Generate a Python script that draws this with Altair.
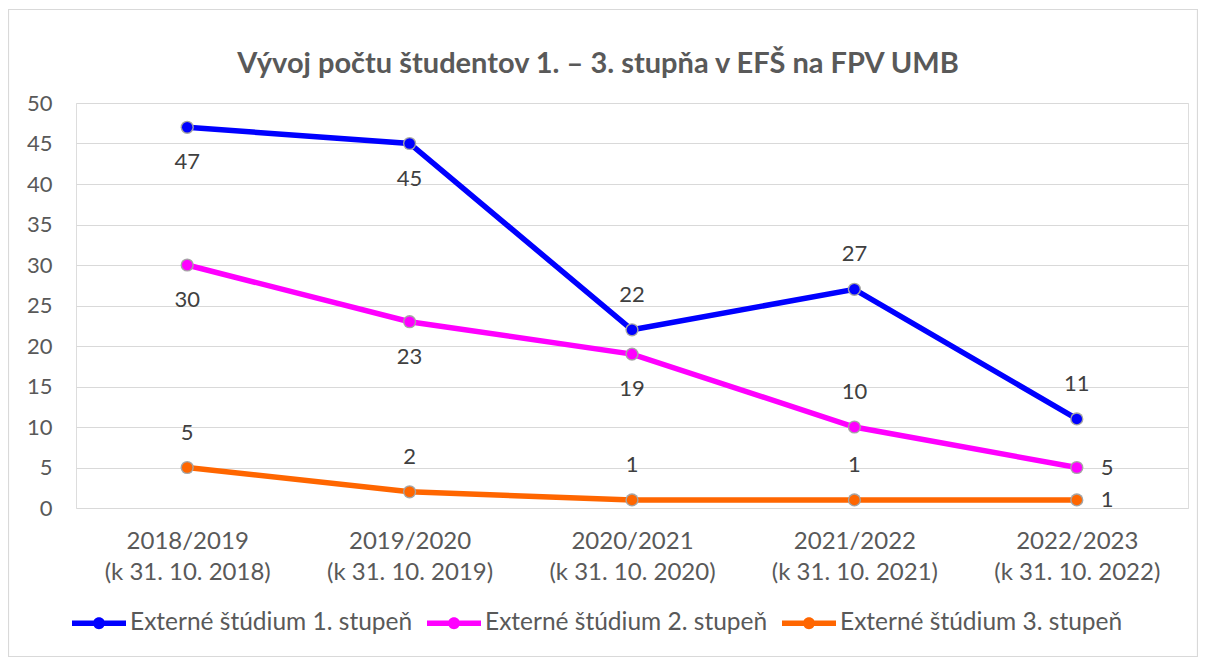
import altair as alt
import pandas as pd

# ---- data ----
years = ["2018/2019", "2019/2020", "2020/2021", "2021/2022", "2022/2023"]
dates = ["(k 31. 10. 2018)", "(k 31. 10. 2019)", "(k 31. 10. 2020)",
         "(k 31. 10. 2021)", "(k 31. 10. 2022)"]
series = ["Externé štúdium 1. stupeň", "Externé štúdium 2. stupeň",
          "Externé štúdium 3. stupeň"]
values_1 = [47, 45, 22, 27, 11]
values_2 = [30, 23, 19, 10, 5]
values_3 = [5, 2, 1, 1, 1]
labels_1 = ["below", "below", "above", "above", "above"]
labels_2 = ["below", "below", "below", "above", "right"]
labels_3 = ["above", "above", "above", "above", "right"]
colors = ["#0000FF", "#FF00FF", "#FF6600"]
title_text = "Vývoj počtu študentov 1. – 3. stupňa v EFŠ na FPV UMB"

cats = [f"{y}|{d}" for y, d in zip(years, dates)]
rows = []
for s, vals, pos in zip(series, [values_1, values_2, values_3],
                        [labels_1, labels_2, labels_3]):
    for c, v, p in zip(cats, vals, pos):
        rows.append({"kat": c, "serie": s, "pocet": v, "pos": p})
df = pd.DataFrame(rows)

FONT = "Lato"
W, H = 1112, 405

x_enc = alt.X("kat:N", sort=cats,
              scale=alt.Scale(type="point", padding=0.5, domain=cats),
              axis=alt.Axis(title=None, labelExpr="split(datum.label, '|')",
                            labelAngle=0, labelAlign="center", labelBaseline="top",
                            labelLineHeight=31, labelPadding=21, ticks=False,
                            tickSize=0, domain=False, grid=False,
                            labelFont=FONT, labelFontSize=24, labelColor="#595959"))
y_enc = alt.Y("pocet:Q",
              scale=alt.Scale(domain=[0, 50], nice=False),
              axis=alt.Axis(title=None, values=list(range(0, 51, 5)), ticks=False,
                            tickSize=0, domain=False, grid=True, gridColor="#d9d9d9",
                            gridWidth=1, labelPadding=24, labelFont=FONT,
                            labelFontSize=22, labelColor="#595959"))
color_scale = alt.Scale(domain=series, range=colors)

# legend symbol (filled): a bar with a dot, both wound clockwise
legend_path = ("M-1,-0.1 L1,-0.1 L1,0.1 L-1,0.1 Z "
               "M-0.22,0 A0.22,0.22 0 1,1 0.22,0 A0.22,0.22 0 1,1 -0.22,0 Z")

legend = alt.Legend(orient="none", legendX=-4, legendY=493,
                    direction="horizontal", title=None,
                    symbolType=legend_path, symbolSize=2916,
                    symbolStrokeWidth=0, symbolOpacity=1,
                    labelFont=FONT, labelFontSize=24.5,
                    labelColor="#595959", labelOffset=4,
                    columnPadding=14, labelLimit=400)

color_enc = alt.Color("serie:N", scale=color_scale, sort=series, legend=legend)

base = alt.Chart(df)

lines = base.mark_line(strokeWidth=5.5).encode(x=x_enc, y=y_enc, color=color_enc)

rings = base.mark_point(filled=True, size=175, opacity=1, shape="circle",
                        color="#a5a5a5").encode(x=x_enc, y=y_enc)

points = base.mark_point(filled=True, size=110, opacity=1,
                         shape="circle").encode(x=x_enc, y=y_enc, color=color_enc)

text_style = dict(font=FONT, fontSize=22, color="#404040", baseline="middle")
lab_above = base.transform_filter("datum.pos == 'above'").mark_text(
    dy=-35, align="center", **text_style).encode(x=x_enc, y=y_enc, text="pocet:Q")
lab_below = base.transform_filter("datum.pos == 'below'").mark_text(
    dy=35, align="center", **text_style).encode(x=x_enc, y=y_enc, text="pocet:Q")
lab_right = base.transform_filter("datum.pos == 'right'").mark_text(
    dx=24, align="left", **text_style).encode(x=x_enc, y=y_enc, text="pocet:Q")

border = alt.Chart(alt.Data(values=[{}])).mark_rect(
    fill=None, stroke="#d9d9d9", strokeWidth=1.2).encode(
    x=alt.value(-67.5), x2=alt.value(W + 9.5),
    y=alt.value(-93.5), y2=alt.value(H + 148.5))

chart = alt.layer(border, lines, rings, points,
                  lab_above, lab_below, lab_right).properties(
    width=W, height=H,
    title=alt.TitleParams(title_text, font=FONT, fontSize=29, fontWeight="bold",
                          color="#595959", anchor="middle", frame="group",
                          dx=-34, offset=-70),
    autosize=alt.AutoSizeParams(type="none"),
    padding={"left": 68, "top": 95, "right": 10, "bottom": 150},
).configure_view(stroke=None).configure(background="white")

chart.save("out.html", embed_options={"renderer": "svg", "actions": False})
